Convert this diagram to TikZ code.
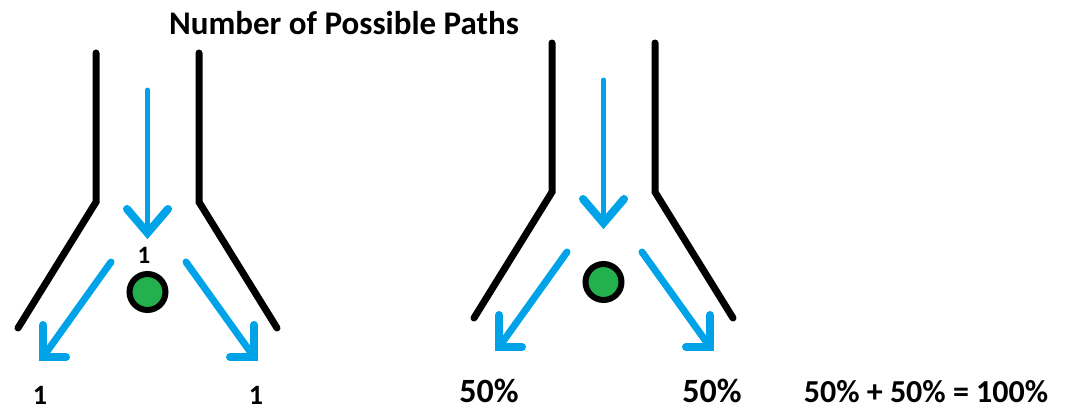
\documentclass[tikz,border=0pt]{standalone}
\usepackage{fontspec}
\setmainfont{Carlito}
\usepackage{xcolor}
\usepackage{tikz}

\definecolor{paintblue}{RGB}{0,162,232}
\definecolor{paintgreen}{RGB}{34,177,76}
\tikzset{
  wall/.style={line width=7pt, line cap=round, line join=miter},
  flow/.style={color=paintblue, line width=7pt, line cap=round},
  head/.style={color=paintblue, line width=8pt, line cap=round, line join=miter},
  ball/.style={circle, draw=black, line width=6pt, fill=paintgreen, minimum size=36pt, inner sep=0pt},
  count/.style={font=\bfseries\fontsize{28}{30}\selectfont},
  share/.style={font=\bfseries\fontsize{34}{38}\selectfont, inner sep=1pt},
}

\begin{document}
\begin{tikzpicture}[x=1pt, y=-1pt]
  \useasboundingbox (0,0) rectangle (1065,410);
  \node[font=\bfseries\fontsize{33}{36}\selectfont] (title) at (344,23) {Number of Possible Paths};

  % the two funnels, the second one shifted right and up
  \foreach \dx\dy [count=\fn from 1] in {0/0, 456/-10}{%
    \begin{scope}[shift={(\dx,\dy)}]
      \draw[wall] (96,53) -- (96,202) -- (18,328);
      \draw[wall] (199,53) -- (199,202) -- (277,328);

      \node[ball] (ball\fn) at (147.5,292) {};
      \coordinate (in\fn) at (147.5,90);
      \coordinate (drop\fn) at (147.5,233);
      \coordinate (l\fn) at (111,262);
      \coordinate (lt\fn) at (43,357);
      \coordinate (r\fn) at (186,262);
      \coordinate (rt\fn) at (254,357);

      \draw[flow, line width=5pt] (in\fn) -- (drop\fn);
      \draw[head] (drop\fn) ++(-20.5,-24) -- (drop\fn) -- ++(20.5,-24);
      \draw[flow] (l\fn) -- (lt\fn);
      \draw[head] (lt\fn) ++(0,-32) -- (lt\fn) -- ++(23,0);
      \draw[flow] (r\fn) -- (rt\fn);
      \draw[head] (rt\fn) ++(0,-32) -- (rt\fn) -- ++(-24,0);
    \end{scope}
  }

  \node[count, font=\bfseries\fontsize{25}{28}\selectfont] (hit) at (144,255) {1};
  \node[count] (left1) at (40,395) {1};
  \node[count] (right1) at (256,395) {1};
  \node[share] (left2) at (489,391) {50\%};
  \node[share] (right2) at (712,391) {50\%};
  \node[font=\bfseries\fontsize{32}{34}\selectfont] (sum) at (926,392) {50\% + 50\% = 100\%};
\end{tikzpicture}
\end{document}
